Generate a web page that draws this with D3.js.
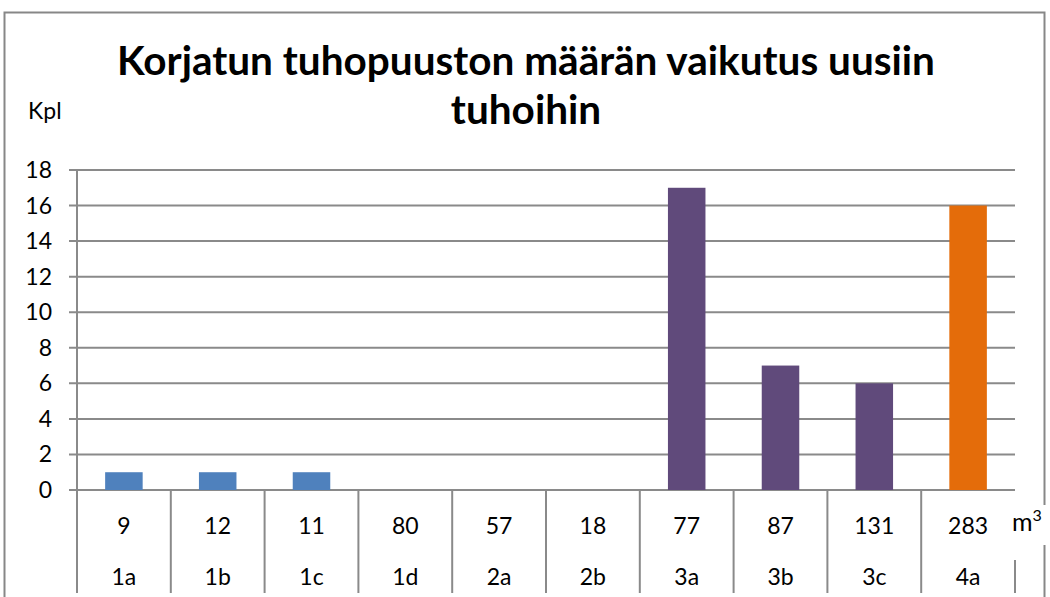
<!DOCTYPE html>
<meta charset="utf-8">
<style>
  body { margin: 0; background: #fff; }
  text { font-family: Lato, "Open Sans", sans-serif; fill: #000; }
</style>
<script src="https://d3js.org/d3.v7.min.js"></script>
<div id="chart"></div>
<script>

  // data
  var groups = ["1a", "1b", "1c", "1d", "2a", "2b", "3a", "3b", "3c", "4a"]
  var volumes = ["9", "12", "11", "80", "57", "18", "77", "87", "131", "283"]
  var counts = [1, 1, 1, 0, 0, 0, 17, 7, 6, 16]
  var barColors = ["#4F81BD", "#4F81BD", "#4F81BD", "#4F81BD", "#4F81BD", "#4F81BD",
                   "#604A7B", "#604A7B", "#604A7B", "#E46C0A"]
  var yTicks = [0, 2, 4, 6, 8, 10, 12, 14, 16, 18]

  var width = 1050, height = 597
  var plotL = 77, plotR = 1015, plotT = 170, plotB = 490

  var svg = d3.select("#chart").append("svg")
      .attr("width", width)
      .attr("height", height)

  // outer chart border
  svg.append("rect")
    .attr("x", 4.5).attr("y", 12.5)
    .attr("width", 1040).attr("height", 600)
    .attr("fill", "none")
    .attr("stroke", "#878787")
    .attr("stroke-width", 2)

  var x = d3.scaleBand().domain(groups).range([plotL, plotR])
  var y = d3.scaleLinear().domain([0, 18]).range([plotB, plotT])

  // gridlines + ticks
  svg.selectAll(".grid")
    .data(yTicks)
    .enter().append("line")
      .attr("x1", plotL - 8).attr("x2", plotR)
      .attr("y1", function(d) { return y(d) }).attr("y2", function(d) { return y(d) })
      .attr("stroke", "#8a8a8a")
      .attr("stroke-width", 2)

  svg.selectAll(".ylab")
    .data(yTicks)
    .enter().append("text")
      .attr("x", 52)
      .attr("y", function(d) { return y(d) + 8 })
      .attr("text-anchor", "end")
      .style("font-size", "23px")
      .text(function(d) { return d })

  // y axis line
  svg.append("line")
    .attr("x1", plotL).attr("x2", plotL)
    .attr("y1", plotT).attr("y2", plotB)
    .attr("stroke", "#8a8a8a").attr("stroke-width", 2)

  // bars
  var bw = x.bandwidth() * 0.4
  svg.selectAll(".bar")
    .data(counts)
    .enter().append("rect")
      .attr("x", function(d, i) { return x(groups[i]) + (x.bandwidth() - bw) / 2 })
      .attr("y", function(d) { return y(d) })
      .attr("width", bw)
      .attr("height", function(d) { return plotB - y(d) })
      .attr("fill", function(d, i) { return barColors[i] })

  // category separators
  var seps = groups.map(function(g) { return x(g) })
  svg.selectAll(".sep")
    .data(seps)
    .enter().append("line")
      .attr("x1", function(d) { return d }).attr("x2", function(d) { return d })
      .attr("y1", plotB).attr("y2", 593)
      .attr("stroke", "#8a8a8a").attr("stroke-width", 2)
  svg.append("line")
    .attr("x1", plotR).attr("x2", plotR)
    .attr("y1", 560).attr("y2", 593)
    .attr("stroke", "#8a8a8a").attr("stroke-width", 2)

  // category labels (two rows)
  svg.selectAll(".vol")
    .data(volumes)
    .enter().append("text")
      .attr("x", function(d, i) { return x(groups[i]) + x.bandwidth() / 2 })
      .attr("y", 534)
      .attr("text-anchor", "middle")
      .style("font-size", "23px")
      .text(function(d) { return d })

  svg.selectAll(".grp")
    .data(groups)
    .enter().append("text")
      .attr("x", function(d) { return x(d) + x.bandwidth() / 2 })
      .attr("y", 585)
      .attr("text-anchor", "middle")
      .style("font-size", "23px")
      .text(function(d) { return d })

  // unit label
  svg.append("rect")
    .attr("x", 1024).attr("y", 505).attr("width", 26).attr("height", 40)
    .attr("fill", "#fff")
  var unit = svg.append("text")
    .attr("x", 1012).attr("y", 531)
    .style("font-size", "25px")
  unit.append("tspan").text("m")
  unit.append("tspan").attr("dy", -10).style("font-size", "16px").text("3")

  svg.append("text")
    .attr("x", 28).attr("y", 119)
    .style("font-size", "23px")
    .text("Kpl")

  // title
  var title = svg.append("text")
    .attr("text-anchor", "middle")
    .style("font-size", "40.5px")
    .style("font-weight", "bold")
  title.append("tspan").attr("x", 526).attr("y", 75).text("Korjatun tuhopuuston määrän vaikutus uusiin")
  title.append("tspan").attr("x", 526).attr("y", 124).text("tuhoihin")

</script>
